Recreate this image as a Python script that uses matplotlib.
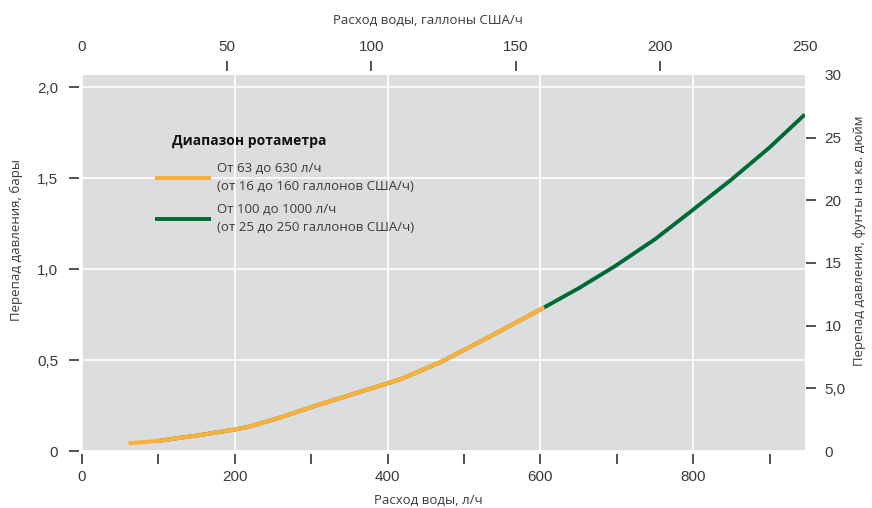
import numpy as np
import matplotlib
matplotlib.use('Agg')
import matplotlib.pyplot as plt

# данные кривой (читаются с графика), расход л/ч -> перепад, бар
flow_small = [61, 100, 150, 200, 220, 260, 305, 360, 417, 470, 535, 605]
dp_small = [0.042, 0.056, 0.085, 0.118, 0.135, 0.185, 0.248, 0.32, 0.395, 0.49, 0.632, 0.790]

flow_big = [100, 150, 200, 220, 260, 305, 360, 417, 470, 535, 605, 650, 697, 750, 797, 850, 900, 946]
dp_big = [0.056, 0.085, 0.118, 0.135, 0.185, 0.248, 0.32, 0.395, 0.49, 0.632, 0.790, 0.895, 1.015, 1.165, 1.318, 1.493, 1.67, 1.851]

legend_labels = ['От 63 до 630 л/ч\n(от 16 до 160 галлонов США/ч)',
                 'От 100 до 1000 л/ч\n(от 25 до 250 галлонов США/ч)']
legend_title = 'Диапазон ротаметра'

x_ticks_lph = [0, 200, 400, 600, 800]
y_ticks_bar = [0, 0.5, 1.0, 1.5, 2.0]
y_tick_labels = ['0', '0,5', '1,0', '1,5', '2,0']
x_ticks_gal = [0, 50, 100, 150, 200, 250]
y_ticks_psi = [0, 5, 10, 15, 20, 25, 30]
y_tick_labels_psi = ['0', '5,0', '10', '15', '20', '25', '30']

GAL = 3.78541
PSI = 14.5038
XMAX = 250 * GAL
YMAX = 30 / PSI

TXT = '#3a3a3a'
NUM_FONT = 'Liberation Sans'
LBL_FONT = 'Open Sans'
TICK_LEN = 7

fig = plt.figure(figsize=(8.72, 5.08), dpi=100)
ax = fig.add_axes([0.094, 0.1122, 0.8292, 0.7402])
ax.set_facecolor('#dcdddf')
ax.set_xlim(0, XMAX)
ax.set_ylim(0, YMAX)

ax.plot(flow_big, dp_big, color='#006a35', lw=2.8, solid_capstyle='butt', zorder=3,
        label=legend_labels[1])
ax.plot(flow_small, dp_small, color='#f9b13c', lw=3.0, solid_capstyle='butt', zorder=4,
        label=legend_labels[0])

# сетка
ax.set_xticks(x_ticks_lph)
ax.set_xticks([100, 300, 500, 700, 900], minor=True)
ax.set_yticks(y_ticks_bar)
ax.set_yticklabels(y_tick_labels)
ax.grid(True, which='major', color='white', lw=1.2)
ax.set_axisbelow(True)

for s in ax.spines.values():
    s.set_visible(False)
ax.spines['left'].set_position(('outward', 2))
ax.spines['bottom'].set_position(('outward', 2))

ax.tick_params(axis='x', which='both', direction='out', length=TICK_LEN, width=1.1,
               color='#222222', pad=5, labelsize=11, labelcolor=TXT)
ax.tick_params(axis='y', which='major', direction='out', length=TICK_LEN, width=1.1,
               color='#222222', pad=8, labelsize=11, labelcolor=TXT)
for lab in ax.get_xticklabels() + ax.get_yticklabels():
    lab.set_fontfamily(NUM_FONT)
ax.xaxis.get_major_ticks()[0].tick1line.set_visible(False)
ax.yaxis.get_major_ticks()[0].tick1line.set_visible(False)

ax.set_xlabel('Расход воды, л/ч', fontsize=9.5, color=TXT, family=LBL_FONT)
ax.xaxis.set_label_coords(0.479, -0.115)
ax.set_ylabel('Перепад давления, бары', fontsize=9.5, color=TXT, family=LBL_FONT)
ax.yaxis.set_label_coords(-0.082, 0.56)

# верхняя ось: галлоны США/ч
axt = ax.twiny()
axt.set_xlim(0, XMAX / GAL)
axt.set_xticks(x_ticks_gal)
for s in axt.spines.values():
    s.set_visible(False)
axt.spines['top'].set_position(('outward', 3))
axt.tick_params(axis='x', direction='out', length=TICK_LEN, width=1.1, color='#222222',
                pad=5, labelsize=11, labelcolor=TXT)
for lab in axt.get_xticklabels():
    lab.set_fontfamily(NUM_FONT)
axt.xaxis.get_major_ticks()[0].tick2line.set_visible(False)
axt.xaxis.get_major_ticks()[-1].tick2line.set_visible(False)
axt.set_xlabel('Расход воды, галлоны США/ч', fontsize=9.5, color=TXT, family=LBL_FONT)
axt.xaxis.set_label_coords(0.479, 1.137)

# правая ось: фунты на кв. дюйм
axr = ax.twinx()
axr.set_ylim(0, YMAX * PSI)
axr.set_yticks(y_ticks_psi)
axr.set_yticklabels(y_tick_labels_psi)
for s in axr.spines.values():
    s.set_visible(False)
axr.spines['right'].set_position(('outward', 1))
axr.tick_params(axis='y', direction='out', length=TICK_LEN, width=1.1, color='#222222',
                pad=6, labelsize=11, labelcolor=TXT)
for lab in axr.get_yticklabels():
    lab.set_fontfamily(NUM_FONT)
axr.yaxis.get_major_ticks()[0].tick2line.set_visible(False)
axr.yaxis.get_major_ticks()[-1].tick2line.set_visible(False)
axr.set_ylabel('Перепад давления, фунты на кв. дюйм', fontsize=9.5, color=TXT,
               family=LBL_FONT, rotation=90)
axr.yaxis.set_label_coords(1.067, 0.56)

# легенда
ax.text(0.124, 0.825, legend_title, transform=ax.transAxes, fontsize=10,
        fontweight='bold', color='#111111', family=LBL_FONT, va='center')
h, l = ax.get_legend_handles_labels()
leg = ax.legend(h[::-1], l[::-1], loc='upper left', bbox_to_anchor=(0.085, 0.80),
                frameon=False, handlelength=4.2, handletextpad=0.5,
                labelspacing=0.75, prop={'family': LBL_FONT, 'size': 9.5})
for t in leg.get_texts():
    t.set_color(TXT)
    t.set_linespacing(1.5)

fig.savefig('out.png', dpi=100)
